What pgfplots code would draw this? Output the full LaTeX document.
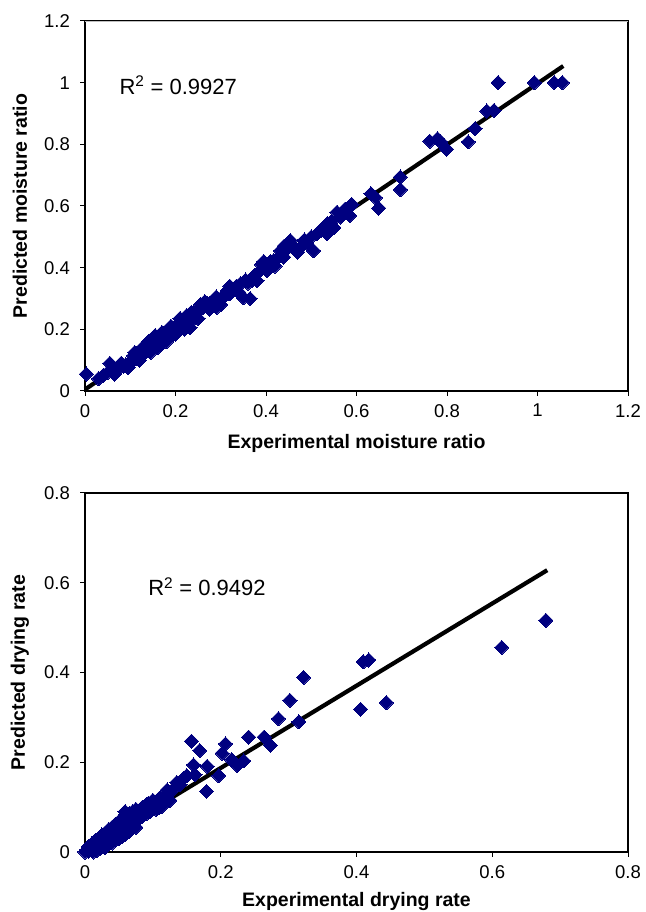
\documentclass[border=0pt]{standalone}
\usepackage{fontspec}
\setmainfont{Liberation Sans}
\usepackage{pgfplots}
\pgfplotsset{compat=1.18}
\definecolor{navy}{RGB}{0,0,128}

\pgfplotsset{
  myaxis/.style={
    anchor=south west,
    scale only axis,
    width=543pt,
    tick align=outside,
    tick pos=left,
    major tick length=5pt,
    every tick/.style={black, line width=1pt},
    axis line style={black, line width=1.5pt},
    /pgf/number format/assume math mode=true,
    tick label style={font=\fontsize{18.5}{18.5}\selectfont},
    xticklabel style={inner sep=0pt, anchor=north, yshift=-8pt},
    yticklabel style={inner sep=0pt, anchor=east, xshift=-10pt},
    label style={font=\fontsize{19.5}{20}\selectfont\bfseries},
    ylabel style={rotate=0, anchor=center},
    xlabel style={anchor=center},
    scaled ticks=false,
    clip=false,
  },
  scat/.style={only marks, mark=square*, mark size=5pt,
    mark options={rotate=45, fill=navy, draw=navy, line width=0pt}},
}

\begin{document}
\begin{tikzpicture}[x=1pt,y=1pt]
\path[use as bounding box] (0,0) rectangle (645,912);

% ---------------- Top plot ----------------
\begin{axis}[myaxis,
  at={(85pt,521pt)},
  height=370pt,
  xmin=0, xmax=1.2, ymin=0, ymax=1.2,
  xtick={0,0.2,0.4,0.6,0.8,1,1.2},
  ytick={0,0.2,0.4,0.6,0.8,1,1.2},
  xlabel={Experimental moisture ratio},
  ylabel={Predicted moisture ratio},
  xlabel style={at={(axis description cs:0.5,-0.1405)}},
  ylabel style={at={(axis description cs:-0.12,0.5)}},
]
\addplot[scat] coordinates {
(0.003,0.055) (0.03,0.04) (0.04,0.05) (0.055,0.09) (0.06,0.065) (0.07,0.072)
(0.077,0.076) (0.085,0.08) (0.09,0.085) (0.1,0.09) (0.105,0.1) (0.107,0.114)
(0.115,0.105) (0.12,0.118) (0.125,0.13) (0.13,0.12) (0.135,0.14) (0.137,0.152)
(0.14,0.13) (0.145,0.155) (0.15,0.14) (0.151,0.165) (0.155,0.17) (0.16,0.16)
(0.165,0.15) (0.17,0.175) (0.175,0.165) (0.18,0.19) (0.185,0.2) (0.19,0.18)
(0.195,0.195) (0.2,0.21) (0.205,0.2) (0.21,0.22) (0.215,0.21) (0.22,0.23)
(0.225,0.245) (0.23,0.22) (0.232,0.206) (0.24,0.25) (0.245,0.24) (0.25,0.26)
(0.255,0.28) (0.26,0.27) (0.27,0.285) (0.28,0.28) (0.291,0.271) (0.3,0.3)
(0.31,0.31) (0.314,0.325) (0.32,0.315) (0.33,0.33) (0.335,0.34) (0.343,0.347)
(0.35,0.303) (0.365,0.30) (0.36,0.35) (0.37,0.36) (0.38,0.358) (0.387,0.39)
(0.39,0.41) (0.4,0.4) (0.402,0.39) (0.41,0.42) (0.417,0.423) (0.425,0.43)
(0.432,0.455) (0.439,0.434) (0.445,0.46) (0.454,0.488) (0.46,0.47) (0.476,0.466)
(0.49,0.48) (0.5,0.5) (0.505,0.455) (0.513,0.51) (0.52,0.52) (0.535,0.542)
(0.535,0.51) (0.545,0.55) (0.557,0.58) (0.565,0.564) (0.585,0.569) (0.587,0.602)
(0.59,0.604) (0.632,0.64) (0.642,0.627) (0.649,0.593) (0.697,0.694) (0.697,0.653)
(0.762,0.81) (0.779,0.818) (0.786,0.808) (0.799,0.784) (0.847,0.808) (0.862,0.851)
(0.888,0.908) (0.904,0.91) (0.913,1.0) (0.993,1.0) (1.037,1.0) (1.055,1.0)
(0.05,0.06) (0.065,0.055) (0.08,0.09) (0.095,0.075) (0.11,0.125) (0.12,0.1)
(0.13,0.145) (0.14,0.16) (0.145,0.125) (0.155,0.18) (0.16,0.14) (0.17,0.19)
(0.18,0.16) (0.19,0.21) (0.2,0.185) (0.21,0.235) (0.22,0.2) (0.235,0.255)
(0.25,0.235) (0.265,0.29) (0.275,0.265) (0.29,0.305) (0.3,0.28) (0.32,0.34)
(0.34,0.32) (0.355,0.36) (0.375,0.375) (0.395,0.42) (0.42,0.405) (0.44,0.47)
(0.47,0.45) (0.485,0.49) (0.55,0.53) (0.575,0.59)
};
\addplot[black, line width=4.2pt, no marks] coordinates {(0,0.005) (1.057,1.054)};
\draw[gray!50, line width=0.8pt] (rel axis cs:0,1) -- (rel axis cs:1,1);
\node[anchor=west, inner sep=0pt, font=\fontsize{22}{22}\selectfont] at (axis cs:0.076,0.992) {R\textsuperscript{2} = 0.9927};
\end{axis}

% ---------------- Bottom plot ----------------
\begin{axis}[myaxis,
  at={(85pt,60pt)},
  height=359pt,
  xmin=0, xmax=0.8, ymin=0, ymax=0.8,
  xtick={0,0.2,0.4,0.6,0.8},
  ytick={0,0.2,0.4,0.6,0.8},
  xlabel={Experimental drying rate},
  ylabel={Predicted drying rate},
  xlabel style={at={(axis description cs:0.5,-0.139)}},
  ylabel style={at={(axis description cs:-0.12,0.5)}},
]
\addplot[scat] coordinates {
(0,0) (0.003,0.005) (0.005,0.002) (0.007,0.01) (0.01,0.005) (0.012,0.012)
(0.015,0.008) (0.017,0.018) (0.02,0.015) (0.022,0.022) (0.022,0.007) (0.025,0.02)
(0.027,0.028) (0.03,0.025) (0.03,0.01) (0.032,0.03) (0.035,0.033) (0.037,0.04)
(0.04,0.035) (0.04,0.02) (0.042,0.045) (0.045,0.04) (0.047,0.05) (0.05,0.045)
(0.05,0.03) (0.052,0.055) (0.055,0.05) (0.057,0.06) (0.059,0.09) (0.06,0.055)
(0.06,0.04) (0.062,0.065) (0.065,0.06) (0.067,0.07) (0.07,0.065) (0.07,0.09)
(0.072,0.075) (0.075,0.07) (0.077,0.08) (0.08,0.075) (0.082,0.085) (0.085,0.08)
(0.087,0.09) (0.09,0.085) (0.093,0.108) (0.095,0.09) (0.1,0.1) (0.1,0.115)
(0.105,0.095) (0.109,0.1) (0.11,0.12) (0.113,0.101) (0.116,0.123) (0.12,0.13)
(0.121,0.138) (0.14,0.15) (0.145,0.164) (0.157,0.247) (0.16,0.194) (0.162,0.172)
(0.169,0.226) (0.179,0.135) (0.18,0.191) (0.197,0.17) (0.202,0.22) (0.207,0.241)
(0.216,0.206) (0.224,0.193) (0.234,0.203) (0.241,0.256) (0.264,0.256) (0.273,0.238)
(0.285,0.297) (0.302,0.338) (0.315,0.29) (0.322,0.389) (0.406,0.318) (0.41,0.424)
(0.418,0.428) (0.444,0.333) (0.614,0.456) (0.679,0.516)
(0.005,0.012) (0.01,0.018) (0.015,0.025) (0.02,0.03) (0.025,0.038) (0.03,0.042)
(0.035,0.05) (0.04,0.055) (0.045,0.062) (0.05,0.068) (0.055,0.075) (0.06,0.08)
(0.065,0.085) (0.075,0.095) (0.085,0.1) (0.09,0.105) (0.012,0.0) (0.018,0.004)
(0.028,0.012) (0.035,0.02) (0.045,0.028) (0.055,0.035) (0.065,0.045) (0.075,0.055)
(0.13,0.14) (0.135,0.155) (0.15,0.17) (0.125,0.115)
};
\addplot[black, line width=4.2pt, no marks] coordinates {(0,0.004) (0.681,0.628)};
\node[anchor=west, inner sep=0pt, font=\fontsize{22}{22}\selectfont] at (axis cs:0.093,0.591) {R\textsuperscript{2} = 0.9492};
\end{axis}
\end{tikzpicture}
\end{document}
